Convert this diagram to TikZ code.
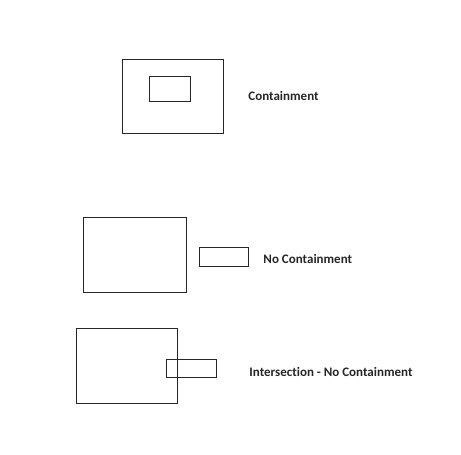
\documentclass[tikz,border=0pt]{standalone}
\usepackage{fontspec}
\setmainfont{Carlito}[Ligatures=NoCommon]
\usepackage{tikz}
\usepackage{xcolor}

\begin{document}
\begin{tikzpicture}[x=1pt,y=-1pt,line width=.9pt,draw=black!85,
    every node/.style={inner sep=0pt,text=black!85,font=\bfseries\fontsize{13}{15}\selectfont}]
  \useasboundingbox (0,0) rectangle (461,455);
  \draw (122,59)
    rectangle ++(101,74) ++(-74,-57)
    rectangle ++(41,25) ++(58,-5)
    node (cont) [right] {Containment}
    ;
  \draw (83,217)
    rectangle ++(103,75) ++(13,-45)
    rectangle ++(49,19) ++(15,-7)
    node (nocont) [right] {No Containment}
    ;
  \draw (76,328)
    rectangle ++(101,75) ++(-11,-44)
    rectangle ++(50,18) ++(33,-5)
    node (inter) [right] {Intersection - No Containment}
    ;
\end{tikzpicture}
\end{document}
